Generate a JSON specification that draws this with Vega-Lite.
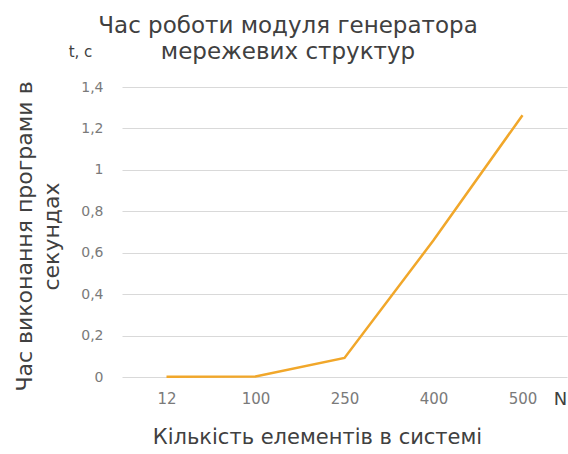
{
  "$schema": "https://vega.github.io/schema/vega-lite/v6.json",
  "autosize": "none",
  "width": 445,
  "height": 290,
  "padding": {"left": 122, "top": 87, "right": 1, "bottom": 77},
  "background": "#ffffff",
  "title": {
    "text": ["Час роботи модуля генератора", "мережевих структур"],
    "font": "DejaVu Sans",
    "fontSize": 23,
    "fontWeight": "normal",
    "color": "#404040",
    "lineHeight": 26,
    "anchor": "middle",
    "frame": "bounds",
    "offset": -20,
    "dx": -2
  },
  "data": {
    "values": [
      {"N": "12", "t": 0.001},
      {"N": "100", "t": 0.003},
      {"N": "250", "t": 0.092},
      {"N": "400", "t": 0.66},
      {"N": "500", "t": 1.264}
    ]
  },
  "layer": [
    {
      "mark": {"type": "line", "color": "#F1A72A", "strokeWidth": 2.5},
      "encoding": {
        "x": {
          "field": "N",
          "type": "ordinal",
          "sort": null,
          "scale": {"type": "point", "padding": 0.5},
          "axis": {
            "orient": "bottom",
            "domain": false,
            "ticks": false,
            "grid": false,
            "labelAngle": 0,
            "labelFont": "DejaVu Sans",
            "labelFontSize": 15,
            "labelColor": "#7a7a7a",
            "labelPadding": 14,
            "title": "Кількість елементів в системі",
            "titleFont": "DejaVu Sans",
            "titleFontSize": 21,
            "titleFontWeight": "normal",
            "titleColor": "#404040",
            "titleX": 195,
            "titleY": 60,
            "titleAlign": "center",
            "titleBaseline": "middle"
          }
        },
        "y": {
          "field": "t",
          "type": "quantitative",
          "scale": {"domain": [0, 1.4], "nice": false},
          "axis": {
            "orient": "left",
            "values": [0, 0.2, 0.4, 0.6, 0.8, 1, 1.2, 1.4],
            "labelExpr": "replace(format(datum.value, '~g'), '.', ',')",
            "domain": false,
            "ticks": false,
            "grid": true,
            "gridColor": "#d9d9d9",
            "gridWidth": 1.2,
            "labelFont": "DejaVu Sans",
            "labelFontSize": 14,
            "labelColor": "#7a7a7a",
            "labelPadding": 19,
            "title": ["Час виконання програми в", "секундах"],
            "titleFont": "DejaVu Sans",
            "titleFontSize": 22,
            "titleFontWeight": "normal",
            "titleColor": "#404040",
            "titleLineHeight": 27,
            "titleAngle": -90,
            "titleX": -98,
            "titleY": 149,
            "titleAlign": "center",
            "titleBaseline": "middle"
          }
        }
      }
    },
    {
      "mark": {"type": "line", "opacity": 0},
      "encoding": {
        "x": {
          "field": "N",
          "type": "ordinal",
          "sort": null,
          "axis": {
            "orient": "top",
            "domain": false,
            "ticks": false,
            "labels": false,
            "grid": false,
            "title": "N",
            "titleFont": "DejaVu Sans",
            "titleFontSize": 18,
            "titleFontWeight": "normal",
            "titleColor": "#404040",
            "titleX": 438,
            "titleY": 312,
            "titleAngle": 0,
            "titleAlign": "center",
            "titleBaseline": "middle"
          }
        },
        "y": {
          "field": "t",
          "type": "quantitative",
          "axis": {
            "orient": "right",
            "domain": false,
            "ticks": false,
            "labels": false,
            "grid": false,
            "title": "t, c",
            "titleFont": "DejaVu Sans",
            "titleFontSize": 15,
            "titleFontWeight": "normal",
            "titleColor": "#404040",
            "titleX": -487,
            "titleY": -36,
            "titleAngle": 0,
            "titleAlign": "center",
            "titleBaseline": "middle"
          }
        }
      }
    }
  ],
  "resolve": {"axis": {"x": "independent", "y": "independent"}},
  "config": {"view": {"stroke": null}}
}
